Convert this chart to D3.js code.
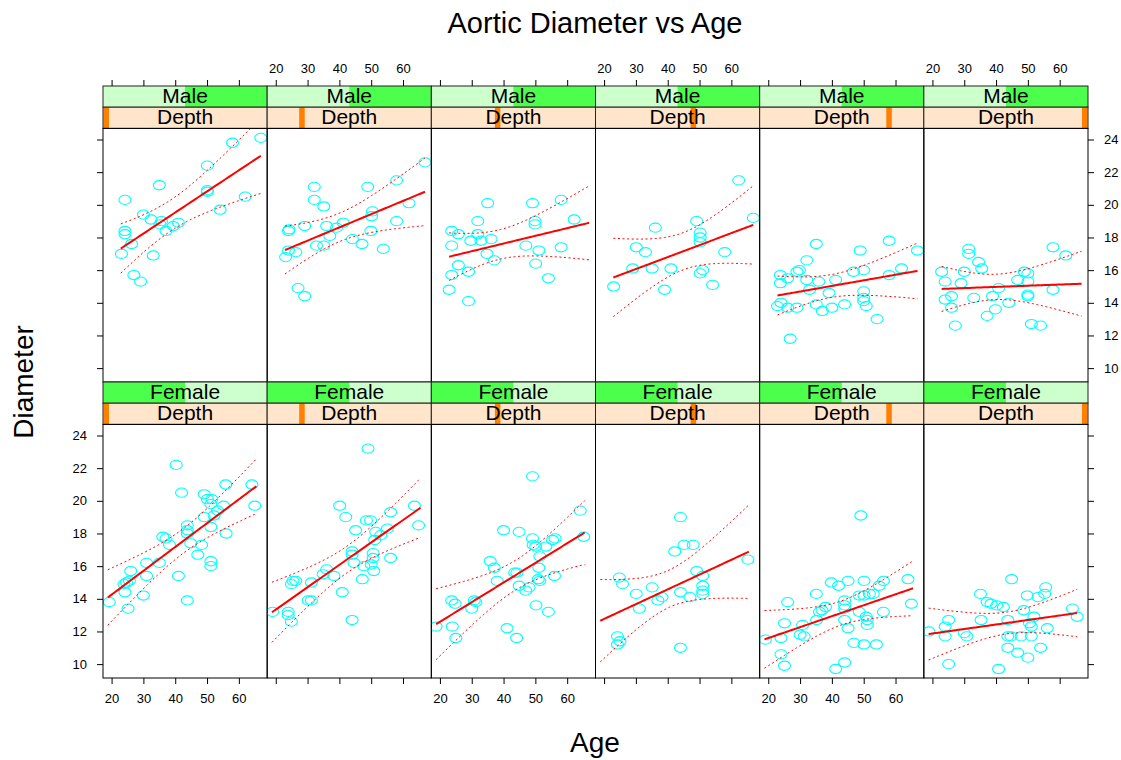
<!DOCTYPE html>
<html>
<head>
<meta charset="utf-8">
<script src="https://cdnjs.cloudflare.com/ajax/libs/d3/7.8.5/d3.min.js"></script>
<style>
    body { margin: 0; background: #fff; }
    svg text { font-family: "Liberation Sans", Arial, sans-serif; fill: #000; }
</style>
</head>
<body>
<div id="chart"></div>
<script>
// categories
var sexes = ["Female", "Male"];
var depths = [1, 2, 3, 4, 5, 6];
var x_ticks = [20, 30, 40, 50, 60];
var y_ticks = [10, 12, 14, 16, 18, 20, 22, 24];

// [age, diameter]
var male_d1 = [[66.9,24.1],[58.0,23.8],[50.1,22.4],[35.0,21.2],[24.2,20.3],[50.1,20.9],[50.1,20.8],[62.0,20.5],[54.1,19.7],[30.0,19.4],[32.4,19.1],[35.7,19.0],[35.2,18.8],[41.0,18.9],[39.4,18.7],[37.1,18.4],[24.2,18.4],[24.2,18.2],[26.3,17.6],[23.1,17.0],[33.1,16.9],[27.0,15.7],[29.1,15.3]];
var male_d2 = [[66.9,22.6],[58.0,21.5],[32.1,21.1],[48.9,21.1],[32.1,20.3],[35.1,19.9],[61.9,20.1],[50.4,19.6],[50.1,19.3],[24.2,18.5],[24.0,18.4],[29.1,18.7],[36.0,18.7],[41.2,18.9],[39.1,18.6],[37.0,18.1],[58.0,19.0],[49.9,18.4],[44.1,17.9],[47.1,17.6],[32.8,17.5],[35.1,17.5],[53.8,17.3],[24.0,17.2],[26.3,17.1],[23.1,16.8],[27.0,14.9],[29.1,14.4]];
var male_d3 = [[35.0,20.1],[49.1,20.1],[58.1,20.3],[31.9,19.0],[62.2,19.1],[49.9,19.0],[49.9,18.8],[23.7,18.4],[25.8,18.2],[31.9,18.2],[29.7,17.8],[32.9,17.8],[36.1,17.9],[23.7,17.5],[47.0,17.5],[51.1,17.2],[58.1,17.4],[34.8,17.0],[37.1,16.6],[50.1,16.4],[25.8,16.3],[29.0,15.9],[23.7,15.7],[54.1,15.5],[22.9,14.8],[29.0,14.1]];
var male_d4 = [[62.3,21.5],[66.9,19.2],[36.1,18.6],[49.1,19.0],[50.2,18.3],[50.2,18.0],[50.2,17.7],[30.1,17.4],[33.0,17.1],[57.9,17.1],[29.0,16.1],[35.1,16.1],[41.0,16.1],[51.0,16.0],[50.2,15.8],[23.0,15.0],[54.1,15.1],[39.0,14.8]];
var male_d5 = [[35.1,17.6],[58.0,17.8],[48.9,17.2],[66.9,17.2],[32.1,16.6],[29.8,16.0],[29.0,15.9],[23.8,15.7],[26.1,15.5],[32.1,15.4],[35.9,15.3],[41.2,15.4],[46.8,15.9],[50.0,16.0],[61.9,16.1],[58.0,15.7],[23.8,15.2],[33.0,14.8],[39.1,14.6],[50.0,14.7],[50.0,14.3],[50.0,14.1],[50.8,13.8],[44.0,13.9],[35.1,13.9],[40.0,13.7],[37.0,13.5],[22.9,13.8],[24.0,14.0],[26.1,13.7],[29.0,13.7],[54.2,13.0],[26.9,11.8]];
var male_d6 = [[57.9,17.4],[61.9,16.9],[31.4,17.3],[31.4,17.0],[34.5,16.5],[35.5,16.1],[22.9,15.9],[30.0,15.9],[24.0,15.3],[29.0,15.2],[46.8,15.4],[48.9,15.9],[50.0,15.8],[50.0,15.3],[40.8,14.9],[57.9,14.8],[24.0,14.2],[26.0,14.4],[33.0,14.3],[38.9,14.4],[44.0,14.0],[50.0,14.5],[50.0,14.4],[26.0,13.7],[39.8,13.6],[37.2,13.2],[27.2,12.6],[51.1,12.7],[54.0,12.6]];

var female_d1 = [[40.3,22.2],[42.0,20.5],[55.9,21.0],[64.1,21.0],[65.0,19.7],[49.1,20.4],[50.1,20.1],[51.5,20.1],[51.2,19.8],[55.2,19.7],[53.3,19.4],[52.2,19.1],[49.1,19.0],[43.8,18.5],[43.8,18.2],[43.8,18.0],[51.2,18.4],[36.1,17.8],[37.1,17.7],[38.2,17.3],[44.9,17.4],[48.3,17.3],[56.0,18.0],[47.1,16.7],[51.2,16.3],[51.2,16.0],[31.0,16.2],[35.0,16.2],[26.0,15.7],[31.0,15.4],[41.0,15.4],[24.7,15.0],[23.9,14.9],[25.6,15.1],[24.2,14.4],[30.0,14.2],[43.8,13.9],[19.3,13.8],[25.2,13.4]];
var female_d2 = [[49.0,23.2],[40.1,19.7],[63.6,19.7],[64.9,18.5],[56.1,19.3],[42.0,19.0],[48.5,18.8],[49.8,18.8],[45.1,18.2],[51.4,18.1],[53.0,17.9],[55.1,18.3],[51.1,17.6],[44.0,16.9],[44.0,16.7],[50.6,16.8],[50.6,16.5],[56.1,16.5],[44.6,16.2],[47.7,16.0],[50.0,16.1],[50.8,15.7],[47.2,15.2],[36.0,15.8],[34.9,15.5],[38.3,15.4],[31.2,15.0],[25.4,15.1],[26.3,15.1],[24.9,14.9],[40.9,14.4],[30.2,13.9],[31.2,13.9],[19.0,13.2],[23.9,13.2],[23.9,13.0],[24.9,12.6],[44.0,12.7]];
var female_d3 = [[49.1,21.5],[64.1,19.4],[65.2,17.8],[40.0,18.2],[44.9,18.1],[49.1,17.7],[49.3,17.3],[50.1,17.2],[53.3,17.2],[55.4,17.6],[56.2,17.7],[51.4,16.6],[51.1,15.9],[35.8,16.3],[37.1,15.9],[43.5,15.6],[44.2,15.6],[38.0,15.1],[50.9,15.2],[51.4,15.1],[56.0,15.4],[44.9,14.8],[48.0,14.7],[47.0,14.5],[30.8,13.9],[23.7,13.9],[24.8,13.7],[31.3,13.8],[30.0,13.4],[50.2,13.6],[54.1,13.2],[18.8,12.3],[23.9,12.3],[41.1,12.2],[25.0,11.6],[44.1,11.6]];
var female_d4 = [[44.0,19.0],[65.2,16.4],[42.2,16.9],[45.1,17.3],[48.0,17.3],[49.1,15.7],[51.0,15.4],[51.0,14.8],[51.0,14.5],[51.0,14.3],[44.0,14.4],[47.0,14.1],[24.8,15.3],[25.8,14.9],[30.1,14.3],[35.1,14.7],[38.2,14.1],[36.9,13.9],[31.1,13.4],[24.2,11.7],[24.2,11.2],[25.0,11.4],[44.0,11.0]];
var female_d5 = [[49.1,19.1],[63.9,15.2],[65.0,13.7],[39.8,15.0],[42.1,14.8],[45.1,15.1],[50.1,15.1],[56.2,15.1],[54.9,14.8],[53.0,14.3],[51.8,14.3],[50.1,14.2],[48.6,14.2],[35.1,14.3],[26.1,13.8],[44.0,13.9],[44.0,13.6],[44.0,13.4],[38.0,13.5],[36.9,13.3],[36.1,13.2],[35.2,12.7],[44.0,12.7],[48.6,13.2],[50.8,12.9],[51.1,12.7],[51.1,12.4],[56.2,13.2],[45.1,12.2],[25.1,12.5],[30.8,12.4],[30.0,11.8],[31.3,11.7],[24.0,11.6],[19.1,11.5],[46.9,11.3],[50.1,11.2],[54.0,11.2],[24.0,10.6],[25.1,9.9],[44.0,10.1],[41.2,9.7]];
var female_d6 = [[44.9,15.2],[35.1,14.3],[55.6,14.7],[53.2,14.1],[55.3,14.3],[49.8,14.2],[37.2,13.8],[38.4,13.7],[40.2,13.6],[42.3,13.5],[48.7,13.3],[51.9,12.9],[64.0,13.4],[65.5,12.9],[35.3,12.7],[25.1,12.7],[43.7,12.7],[50.5,12.5],[24.0,12.3],[51.1,12.3],[56.1,12.2],[18.9,12.0],[30.0,11.9],[30.8,11.7],[24.0,11.7],[43.7,11.7],[44.7,11.7],[47.9,11.7],[51.1,11.7],[43.7,11.0],[54.0,11.0],[46.8,10.7],[50.0,10.4],[25.1,10.0],[40.8,9.7]];

var panel_data = {
    Male: [male_d1, male_d2, male_d3, male_d4, male_d5, male_d6],
    Female: [female_d1, female_d2, female_d3, female_d4, female_d5, female_d6]
};

var width = 1121, height = 760,
    grid_left = 103, grid_right = 1088,
    grid_top = 86,
    strip_h = 21.2,
    panel_h = 253.6,
    panel_w = (grid_right - grid_left) / depths.length,
    row_h = 2 * strip_h + panel_h;

var svg = d3.select("#chart").append("svg")
    .attr("width", width)
    .attr("height", height);

var x = d3.scaleLinear().domain([17.3, 68.9]).range([0, panel_w]);
var y = d3.scaleLinear().domain([9.15, 24.68]).range([panel_h, 0]);

/*
 * linear fit + simultaneous (Scheffe-type, 3 df) 95% band of the mean
 */
function critical(df) {
    // approx F(0.95; 3, df)
    var f = 2.605 + 10.2 / df;
    return Math.sqrt(3 * f);
}

function fit(pts) {
    var n = pts.length,
        mx = d3.mean(pts, function(d) { return d[0]; }),
        my = d3.mean(pts, function(d) { return d[1]; }),
        sxx = d3.sum(pts, function(d) { return (d[0] - mx) * (d[0] - mx); }),
        sxy = d3.sum(pts, function(d) { return (d[0] - mx) * (d[1] - my); }),
        b = sxy / sxx,
        a = my - b * mx,
        sse = d3.sum(pts, function(d) { var r = d[1] - a - b * d[0]; return r * r; }),
        s = Math.sqrt(sse / (n - 2)),
        k = critical(n - 2);
    return function(xv) {
        var yhat = a + b * xv,
            se = s * Math.sqrt(1 / n + (xv - mx) * (xv - mx) / sxx);
        return [yhat, yhat - k * se, yhat + k * se];
    };
}

var rows = ["Male", "Female"];

rows.forEach(function(sex, r) {
    var all_ages = d3.merge(panel_data[sex]).map(function(d) { return d[0]; });
    var ext = d3.extent(all_ages);
    var xs = d3.range(0, 61).map(function(i) { return ext[0] + (ext[1] - ext[0]) * i / 60; });
    var row_top = grid_top + r * row_h;

    depths.forEach(function(dep, c) {
        var pts = panel_data[sex][c];
        var g = svg.append("g")
            .attr("transform", "translate(" + (grid_left + c * panel_w) + "," + row_top + ")");

        /*
         * strips
         */
        var sex_idx = sexes.indexOf(sex);
        g.append("rect")
            .attr("width", panel_w).attr("height", strip_h)
            .style("fill", "#ccffcc");
        g.append("rect")
            .attr("x", sex_idx * panel_w / 2)
            .attr("width", panel_w / 2).attr("height", strip_h)
            .style("fill", "#4dff4d");
        g.append("rect")
            .attr("width", panel_w).attr("height", strip_h)
            .style("fill", "none").style("stroke", "#222");
        g.append("text")
            .attr("x", panel_w / 2).attr("y", strip_h - 4)
            .attr("text-anchor", "middle")
            .style("font-size", "21px")
            .text(sex);

        var sg = g.append("g").attr("transform", "translate(0," + strip_h + ")");
        sg.append("rect")
            .attr("width", panel_w).attr("height", strip_h)
            .style("fill", "#ffe5cc");
        sg.append("rect")
            .attr("x", 0.5 + (dep - 1) / (depths.length - 1) * (panel_w - 6.5))
            .attr("width", 5.5).attr("height", strip_h)
            .style("fill", "#ff7f00");
        sg.append("rect")
            .attr("width", panel_w).attr("height", strip_h)
            .style("fill", "none").style("stroke", "#222");
        sg.append("text")
            .attr("x", panel_w / 2).attr("y", strip_h - 4)
            .attr("text-anchor", "middle")
            .style("font-size", "21px")
            .text("Depth");

        /*
         * panel
         */
        var pg = g.append("g").attr("transform", "translate(0," + (2 * strip_h) + ")");
        pg.append("clipPath").attr("id", "clip" + r + c)
            .append("rect").attr("width", panel_w).attr("height", panel_h);

        var inner = pg.append("g").attr("clip-path", "url(#clip" + r + c + ")");

        inner.selectAll("ellipse")
            .data(pts)
            .enter()
            .append("ellipse")
            .attr("cx", function(d) { return x(d[0]); })
            .attr("cy", function(d) { return y(d[1]); })
            .attr("rx", 6)
            .attr("ry", 4.6)
            .style("fill", "none")
            .style("stroke", "#00ffff")
            .style("stroke-width", 1.1);

        var f = fit(pts);
        var band = xs.map(function(xv) { return [xv].concat(f(xv)); });

        [2, 3].forEach(function(k) {
            inner.append("path")
                .datum(band)
                .attr("d", d3.line()
                    .x(function(d) { return x(d[0]); })
                    .y(function(d) { return y(d[k]); }))
                .style("fill", "none")
                .style("stroke", "#ff0000")
                .style("stroke-width", 1)
                .style("stroke-dasharray", "2,2.6");
        });

        inner.append("path")
            .datum(band)
            .attr("d", d3.line()
                .x(function(d) { return x(d[0]); })
                .y(function(d) { return y(d[1]); }))
            .style("fill", "none")
            .style("stroke", "#ff0000")
            .style("stroke-width", 2);

        pg.append("rect")
            .attr("width", panel_w).attr("height", panel_h)
            .style("fill", "none").style("stroke", "#000");

        /*
         * axes
         */
        if (r === 0) {
            var top_axis = d3.axisTop(x).tickValues(x_ticks).tickSize(6).tickPadding(7)
                .tickFormat(c % 2 === 1 ? d3.format("d") : "");
            g.append("g").attr("class", "axis").call(top_axis);
        }
        if (r === rows.length - 1) {
            var bottom_axis = d3.axisBottom(x).tickValues(x_ticks).tickSize(6).tickPadding(10)
                .tickFormat(c % 2 === 0 ? d3.format("d") : "");
            g.append("g").attr("class", "axis")
                .attr("transform", "translate(0," + (2 * strip_h + panel_h) + ")")
                .call(bottom_axis);
        }
        if (c === 0) {
            var left_axis = d3.axisLeft(y).tickValues(y_ticks).tickSize(6).tickPadding(10)
                .tickFormat(r === 1 ? d3.format("d") : "");
            pg.append("g").attr("class", "axis").call(left_axis);
        }
        if (c === depths.length - 1) {
            var right_axis = d3.axisRight(y).tickValues(y_ticks).tickSize(6).tickPadding(10)
                .tickFormat(r === 0 ? d3.format("d") : "");
            pg.append("g").attr("class", "axis")
                .attr("transform", "translate(" + panel_w + ",0)")
                .call(right_axis);
        }
    });
});

svg.selectAll(".axis .domain").remove();
svg.selectAll(".axis line").style("stroke", "#000");
svg.selectAll(".axis text")
    .style("font-size", "13px")
    .style("font-family", "'Liberation Sans', Arial, sans-serif")
    .style("fill", "#000");

/*
 * titles
 */
svg.append("text")
    .attr("x", 595).attr("y", 33)
    .attr("text-anchor", "middle")
    .style("font-size", "29px")
    .text("Aortic Diameter vs Age");

svg.append("text")
    .attr("x", 595).attr("y", 752)
    .attr("text-anchor", "middle")
    .style("font-size", "28px")
    .text("Age");

svg.append("text")
    .attr("transform", "translate(33," + (grid_top + row_h) + ") rotate(-90)")
    .attr("text-anchor", "middle")
    .style("font-size", "28px")
    .text("Diameter");
</script>
</body>
</html>
